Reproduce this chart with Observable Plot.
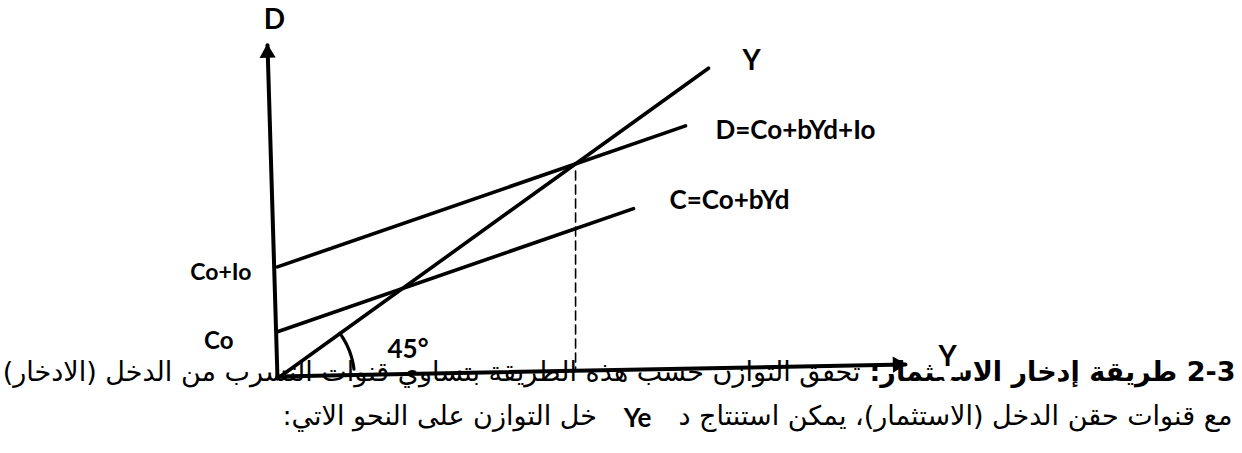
<!DOCTYPE html>
<html>
<head>
<meta charset="utf-8">
<script src="https://cdn.jsdelivr.net/npm/d3@7"></script>
<script src="https://cdn.jsdelivr.net/npm/@observablehq/plot@0.6"></script>
<style>
  html, body { margin: 0; padding: 0; background: #fff; }
  #chart svg { display: block; }
</style>
</head>
<body>
<div id="chart"></div>
<script>
// Keynesian cross: 45° line, consumption C = Co + bYd and demand D = Co + bYd + Io
const Co = 6.5;   // autonomous consumption
const Io = 9;     // autonomous investment
const b = 0.48;   // marginal propensity to consume
const Ye = (Co + Io) / (1 - b);   // equilibrium income

const scheduleNames = ["Y", "D", "C"];
const scheduleIntercepts = [0, Co + Io, Co];
const scheduleSlopes = [1, b, b];
const scheduleEnds = [43.1, 40.8, 35.6];

// axis end points (the drawn axes lean slightly)
const yAxisEnds = [[0, 0], [-1.0, 46.3]];
const xAxisEnds = [[0, 0.28], [62.8, 1.94]];

const axisLabels = ["D", "Y"];
const scheduleLabels = ["Y", "D=Co+bYd+Io", "C=Co+bYd"];
const interceptLabels = ["Co+Io", "Co"];
const angleLabel = "45°";
const equilibriumLabel = "Ye";

// paragraph text around the figure
const para1Bold = "2-3 طريقة إدخار الاستثمار:";
const para1Rest = "تحقق التوازن حسب هذه الطريقة بتساوي قنوات التسرب من الدخل (الادخار)";
const para2Right = "مع قنوات حقن الدخل (الاستثمار)، يمكن استنتاج د";
const para2Left = "خل التوازن على النحو الاتي:";

const W = 1242, H = 453;
const xDomain = [-27.7, 96.5];
const yDomain = [-10.42, 52.5];
const pxPerX = W / (xDomain[1] - xDomain[0]);
const pxPerY = H / (yDomain[1] - yDomain[0]);

const schedules = scheduleNames.flatMap((name, i) => [
  {name, x: 0, y: scheduleIntercepts[i]},
  {name, x: scheduleEnds[i], y: scheduleIntercepts[i] + scheduleSlopes[i] * scheduleEnds[i]}
]);
const endOf = (i) => ({x: scheduleEnds[i], y: scheduleIntercepts[i] + scheduleSlopes[i] * scheduleEnds[i]});

// arc marking the 45° angle, round on screen
const arcR = 77;
const arcAngles = d3.range(7, 36.01, 1);
const arc = arcAngles.map(a => ({
  x: arcR * Math.cos(a * Math.PI / 180) / pxPerX,
  y: arcR * Math.sin(a * Math.PI / 180) / pxPerY
}));

const axisHeightAt = (x) => xAxisEnds[0][1] + (xAxisEnds[1][1] - xAxisEnds[0][1]) * x / xAxisEnds[1][0];
const dashed = [{x: Ye, y: Ye - 1}, {x: Ye, y: axisHeightAt(Ye)}];

const RLE = "\u202B", PDF = "\u202C";
const arabicFont = "'DejaVu Sans', sans-serif";
const labelFont = "Lato, 'Open Sans', sans-serif";
const arabicSize = 27;

const label = (text, at, dx, dy, extra = {}) => Plot.text([text], {
  x: () => at.x, y: () => at.y, text: d => d, dx, dy,
  fontSize: 26, fontWeight: 700, fontFamily: labelFont, fill: "#000", ...extra
});

const para = (text, anchor, dx, dy, name, extra = {}) => Plot.text([RLE + text + PDF], {
  frameAnchor: anchor === "end" ? "bottom-right" : "bottom-left", textAnchor: anchor,
  dx, dy, fontSize: arabicSize, fontFamily: arabicFont, fill: "#000", ariaLabel: name, ...extra
});

const chart = Plot.plot({
  width: W, height: H,
  margin: 0,
  x: {domain: xDomain, axis: null},
  y: {domain: yDomain, axis: null},
  marks: [
    // paragraph text sits under the figure
    para(para1Bold, "end", -7, -73, "para1-bold", {fontWeight: 700}),
    para(para1Rest, "end", -382, -73, "para1-rest"),
    para(para2Right, "end", -10, -29, "para2-right"),
    para(para2Left, "start", 282, -29, "para2-left"),

    // axes
    Plot.line(yAxisEnds, {x: d => d[0], y: d => d[1], stroke: "#000", strokeWidth: 4}),
    Plot.line(xAxisEnds, {x: d => d[0], y: d => d[1], stroke: "#000", strokeWidth: 4}),
    Plot.dot([yAxisEnds[1]], {x: d => d[0], y: d => d[1], symbol: "triangle", r: 6, fill: "#000",
      rotate: -1.7, dy: 8}),
    Plot.dot([xAxisEnds[1]], {x: d => d[0], y: d => d[1], symbol: "triangle", r: 6, fill: "#000",
      rotate: 88.9, dx: -8}),

    // schedules
    Plot.line(schedules, {x: "x", y: "y", z: "name", stroke: "#000", strokeWidth: 3.6}),
    Plot.line(dashed, {x: "x", y: "y", stroke: "#000", strokeWidth: 1.6, strokeDasharray: "9,5"}),
    Plot.line(arc, {x: "x", y: "y", stroke: "#000", strokeWidth: 3.2}),

    // labels
    label(axisLabels[0], {x: yAxisEnds[1][0], y: yAxisEnds[1][1]}, 7, -25, {fontSize: 28}),
    label(axisLabels[1], {x: xAxisEnds[1][0], y: xAxisEnds[1][1]}, 42, -7,
      {fontSize: 28, stroke: "#fff", strokeWidth: 22, paintOrder: "stroke", strokeLinejoin: "miter"}),
    label(scheduleLabels[0], endOf(0), 43, -7, {fontSize: 28}),
    label(scheduleLabels[1], endOf(1), 30, 5, {textAnchor: "start"}),
    label(scheduleLabels[2], endOf(2), 36, -8, {textAnchor: "start"}),
    label(interceptLabels[0], {x: 0, y: Co + Io}, -26, 6, {textAnchor: "end", fontSize: 23}),
    label(interceptLabels[1], {x: 0, y: Co}, -44, 10, {textAnchor: "end", fontSize: 24}),
    label(angleLabel, {x: 0, y: 0}, 110, -29, {textAnchor: "start"}),
    label(equilibriumLabel, {x: Ye, y: 0}, 62, 40)
  ]
});

document.getElementById("chart").append(chart);

// justify the first line of the paragraph out to the left edge, as the page does
const rest = chart.querySelector('g[aria-label="para1-rest"] text');
if (rest) {
  const box = rest.getBBox();
  const spaces = (para1Rest.match(/ /g) || []).length;
  const leftEdge = 2;
  const extra = (box.x - leftEdge) / spaces;
  rest.style.wordSpacing = `${extra}px`;
}
</script>
</body>
</html>
